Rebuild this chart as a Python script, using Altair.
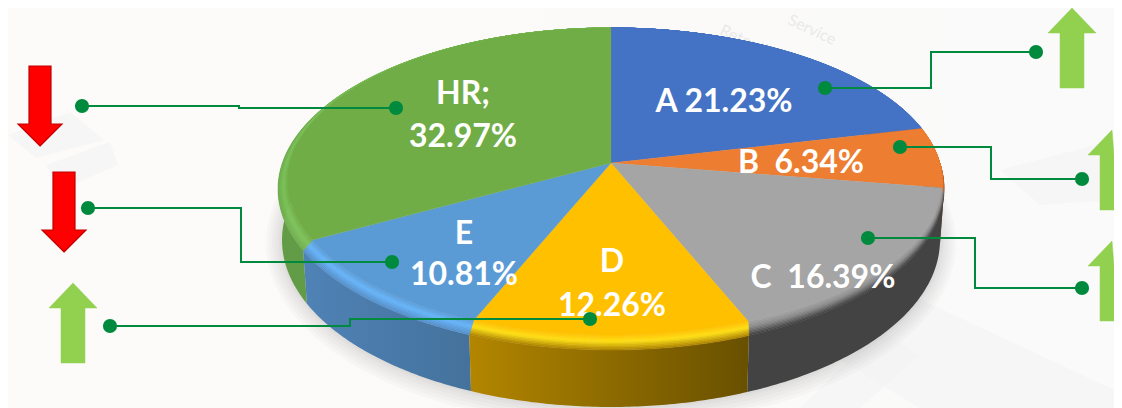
import math
import altair as alt

# ---------- data ----------
labels = ["A", "B", "C", "D", "E", "HR"]
shares = [21.23, 6.34, 16.39, 12.26, 10.81, 32.97]
face_colors = ["#4472C4", "#ED7D31", "#A5A5A5", "#FFC000", "#5B9BD5", "#70AD47"]
rim_mid = ["#4472C4", "#E0762E", "#8c8c8c", "#FFE015", "#66B4FA", "#7DC35A"]
rim_out = ["#3c64ab", "#8A4A1C", "#434343", "#B08600", "#5590CB", "#6FAE4E"]
wall_left = ["#3c64ab", "#8A4A1C", "#434343", "#B38600", "#4F82B6", "#639C47"]
wall_right = ["#3c64ab", "#8A4A1C", "#434343", "#685000", "#44729C", "#5B9140"]

text_strings = ["HR;", "32.97%", "A 21.23%", "B \u00a06.34%", "C \u00a016.39%", "E", "10.81%", "D", "12.26%"]
text_x = [463, 463, 724, 801, 823, 464, 464, 612, 612]
text_y = [94, 137, 102, 163, 278, 234, 275, 262, 306]

leader_x = [[82, 239, 239, 396], [88, 241, 241, 392], [110, 350, 350, 590],
            [825, 931, 931, 1036], [900, 991, 991, 1082], [868, 975, 975, 1082]]
leader_y = [[106, 106, 108, 108], [208, 208, 262, 262], [326, 326, 319, 319],
            [88, 88, 52, 52], [147, 147, 179, 179], [238, 238, 288, 288]]

up_x = [73, 1072, 1112, 1112]
up_tip = [283, 8, 130, 241]
down_x = [40, 64]
down_tip = [146, 252]

# ---------- pie geometry ----------
APEX_X = 611
KK = 0.1205
PERSPECTIVE = math.sqrt(1 - KK * KK)
W, H = 1106, 400
MAX_X, MAX_Y = 8 + W, 8 + H


def ring_point(frac, cy, ry, rx_r, rx_l):
    t = 2 * math.pi * frac
    u, v = math.sin(t), math.cos(t)
    d = 1 + KK * v
    up, vp = u * PERSPECTIVE / d, (v + KK) / d
    return [APEX_X + (rx_r if up > 0 else rx_l) * up, cy - ry * vp]


FACE = (181.5, 153.5, 331, 323)
OUTER = (189, 161, 333, 333)
BASE = (240, 167, 329, 329)


def lerp_ring(a, b, s):
    return tuple(a[i] + (b[i] - a[i]) * s for i in range(4))


def arc(f0, f1, ring, n=70):
    return [ring_point(f0 + (f1 - f0) * i / n, *ring) for i in range(n + 1)]


def mix(c1, c2, s):
    p = [int(c1[i:i + 2], 16) for i in (1, 3, 5)]
    q = [int(c2[i:i + 2], 16) for i in (1, 3, 5)]
    return "#%02x%02x%02x" % tuple(round(x + (y - x) * s) for x, y in zip(p, q))


def clamp(p):
    # the identity projection is fitted to the page box: nothing may stick out of it
    return [min(max(p[0], 8), MAX_X), min(max(p[1], 8), MAX_Y)]


def feat(coords, color="#000000", kind="Polygon"):
    coords = [clamp(p) for p in coords]
    geometry = {"type": kind, "coordinates": [coords] if kind == "Polygon" else coords}
    return {"type": "Feature", "geometry": geometry, "properties": {"color": color}}


def closed(pts):
    return pts + [pts[0]]


edges = [0.0]
for s in shares:
    edges.append(edges[-1] + s / 100)
edges[-1] = 1.0

PROJ = dict(type="identity", scale=1, translate=[-8, -8])


def shape_layer(features, **kw):
    return alt.Chart(alt.Data(values=features)).mark_geoshape(**kw).project(**PROJ)


def colored(features, stroke_width=0.6):
    return shape_layer(features, strokeWidth=stroke_width).encode(
        fill=alt.Color("properties.color:N", scale=None, legend=None),
        stroke=alt.Color("properties.color:N", scale=None, legend=None),
    )


layers = []

# ---------- background ----------
layers.append(shape_layer(
    [feat(closed([[8, 8], [MAX_X, 8], [MAX_X, MAX_Y], [8, MAX_Y]]))],
    fill={"gradient": "linear", "x1": 0, "x2": 1, "y1": 0, "y2": 0,
          "stops": [{"offset": 0, "color": "#fdfbf9"}, {"offset": 0.6, "color": "#fbfaf9"},
                    {"offset": 1, "color": "#fafafa"}]},
    strokeWidth=0))
bg_shapes = [
    [[4, 135], [70, 112], [104, 140], [36, 158]],
    [[46, 165], [110, 142], [118, 165], [60, 190]],
    [[815, 250], [1122, 390], [1122, 408], [920, 408], [790, 330]],
    [[880, 330], [920, 355], [860, 408], [800, 408]],
    [[1000, 170], [1122, 140], [1122, 200], [1040, 205]],
]
layers.append(shape_layer([feat(closed(p)) for p in bg_shapes], fill="#f3f3f3",
                          opacity=0.6, strokeWidth=0))
faint = alt.Chart(alt.Data(values=[
    {"t": "Service", "lon": 812, "lat": 30},
    {"t": "Retention", "lon": 752, "lat": 44},
])).mark_text(font="Lato", fontSize=16, color="#e9e9e9", angle=25, align="center").encode(
    longitude="lon:Q", latitude="lat:Q", text="t:N").project(**PROJ)
layers.append(faint)

# ---------- soft shadow ----------
for grow in [16, 13, 10, 7, 4, 2]:
    ring = (BASE[0] + grow * 0.2, BASE[1] + grow, BASE[2] + grow, BASE[3] + grow)
    layers.append(shape_layer([feat(closed(arc(0, 1, ring, 180)))],
                              fill="#000000", fillOpacity=0.02, strokeWidth=0))

# ---------- side walls ----------
for i in [0, 5, 1, 4, 2, 3]:
    f0, f1 = edges[i], edges[i + 1]
    top = arc(f0, f1, OUTER)
    bottom = arc(f0, f1, BASE)
    poly = closed(top + bottom[::-1])
    layers.append(shape_layer(
        [feat(poly)],
        fill={"gradient": "linear", "x1": 0, "x2": 1, "y1": 0, "y2": 0,
              "stops": [{"offset": 0, "color": wall_left[i]}, {"offset": 1, "color": wall_right[i]}]},
        strokeWidth=0))

# ---------- bevel bands ----------
N_BANDS = 10
band_features = []
for i in range(len(labels)):
    f0, f1 = edges[i], edges[i + 1]
    for b in range(N_BANDS, 0, -1):
        s = b / N_BANDS
        if s <= 0.45:
            col = mix(face_colors[i], rim_mid[i], s / 0.45)
        else:
            col = mix(rim_mid[i], rim_out[i], (s - 0.45) / 0.55)
        inner = lerp_ring(FACE, OUTER, (b - 1) / N_BANDS)
        outer = lerp_ring(FACE, OUTER, s)
        band_features.append(feat(closed(arc(f0, f1, outer) + arc(f0, f1, inner)[::-1]), col))
layers.append(colored(band_features))

# ---------- top faces ----------
apex = [APEX_X, FACE[0] - FACE[1] * KK]
top_features = [feat(closed([apex] + arc(edges[i], edges[i + 1], FACE)), face_colors[i])
                for i in range(len(labels))]
layers.append(colored(top_features, 0.3))

# ---------- slice labels ----------
layers.append(alt.Chart(alt.Data(values=[
    {"t": t, "lon": x, "lat": y} for t, x, y in zip(text_strings, text_x, text_y)
])).mark_text(font="Lato", fontWeight="bold", fontSize=32, color="white",
              align="center", baseline="middle").encode(
    longitude="lon:Q", latitude="lat:Q", text="t:N").project(**PROJ))

# ---------- arrows ----------
up_features = []
for x, y in zip(up_x, up_tip):
    up_features.append(feat(closed([[x, y], [x + 24, y + 25], [x + 12, y + 25], [x + 12, y + 80],
                                    [x - 12, y + 80], [x - 12, y + 25], [x - 24, y + 25]]), "#92D050"))
layers.append(colored(up_features, 0.5))
down_features = []
for x, y in zip(down_x, down_tip):
    down_features.append(feat(closed([[x, y], [x + 22, y - 22], [x + 11, y - 22], [x + 11, y - 80],
                                      [x - 11, y - 80], [x - 11, y - 22], [x - 22, y - 22]])))
layers.append(shape_layer(down_features, fill="#FF0000", stroke="#C00000", strokeWidth=1.2))

# ---------- leader lines and dots ----------
line_features = [feat([[a, b] for a, b in zip(xs, ys)], kind="LineString")
                 for xs, ys in zip(leader_x, leader_y)]
layers.append(shape_layer(line_features, filled=False, stroke="#008A3E", strokeWidth=2))
dots = []
for xs, ys in zip(leader_x, leader_y):
    dots.append({"lon": xs[0], "lat": ys[0]})
    dots.append({"lon": xs[-1], "lat": ys[-1]})
layers.append(alt.Chart(alt.Data(values=dots)).mark_circle(size=201, color="#008A3E", opacity=1).encode(
    longitude="lon:Q", latitude="lat:Q").project(**PROJ))

chart = alt.layer(*layers).properties(
    width=W, height=H, padding=0, autosize=alt.AutoSizeParams(type="none")
).configure_view(stroke=None)

chart.save("out.html", embed_options={"renderer": "svg", "actions": False})
